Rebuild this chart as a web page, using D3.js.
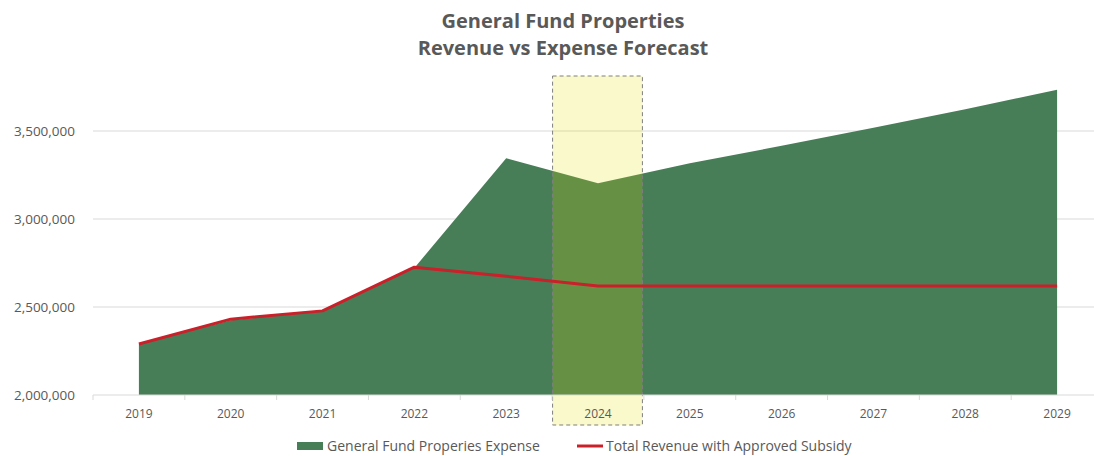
<!DOCTYPE html>
<html>
<head>
<meta charset="utf-8">
<script src="https://cdn.jsdelivr.net/npm/d3@7"></script>
<style>
  body { margin: 0; background: #fff; }
  text { font-family: "Open Sans", "DejaVu Sans", sans-serif; }
</style>
</head>
<body>
<svg id="chart" width="1094" height="456"></svg>
<script>
// ─── Data ─────────────────────────────────────────────────────────────────────
const years    = ["2019", "2020", "2021", "2022", "2023", "2024", "2025", "2026", "2027", "2028", "2029"];
const expense  = [2290000, 2425000, 2478000, 2722000, 3345000, 3203000, 3317000, 3416000, 3519000, 3624000, 3735000];
const revenue  = [2290000, 2431000, 2478000, 2726000, 2675000, 2619000, 2619000, 2619000, 2619000, 2619000, 2619000];
const yTicks   = [2000000, 2500000, 3000000, 3500000];
const highlightYear = "2024";
const titleLines = ["General Fund Properties", "Revenue vs Expense Forecast"];
const seriesNames = ["General Fund Properies Expense", "Total Revenue with Approved Subsidy"];

// ─── Layout ───────────────────────────────────────────────────────────────────
const GREEN = "#477e57", RED = "#c9202a", GREY = "#595959", GRID = "#d9d9d9";
const plot = { left: 93, right: 1103, top: 43, bottom: 395 };

const svg = d3.select("#chart");

const x = d3.scaleBand().domain(years).range([plot.left, plot.right]);
const cx = d => x(d) + x.bandwidth() / 2;
const y = d3.scaleLinear().domain([2000000, 4000000]).range([plot.bottom, plot.top]);

// Gridlines
svg.append("g")
    .selectAll("line")
    .data(yTicks.slice(1))
    .join("line")
    .attr("x1", plot.left).attr("x2", plot.right)
    .attr("y1", d => y(d)).attr("y2", d => y(d))
    .attr("stroke", GRID).attr("stroke-width", 1);

// Y axis labels
svg.append("g")
    .selectAll("text")
    .data(yTicks)
    .join("text")
    .attr("x", 75).attr("y", d => y(d))
    .attr("dy", "0.35em")
    .attr("text-anchor", "end")
    .attr("font-size", 13.5)
    .attr("fill", GREY)
    .text(d => d3.format(",")(d));

// Expense area
const rows = years.map((yr, i) => ({ yr, exp: expense[i], rev: revenue[i] }));
svg.append("path")
    .datum(rows)
    .attr("fill", GREEN)
    .attr("d", d3.area().x(d => cx(d.yr)).y0(y(2000000)).y1(d => y(d.exp)));

// Highlighted year
svg.append("rect")
    .attr("x", x(highlightYear) + 0.5)
    .attr("y", 76)
    .attr("width", x.bandwidth() - 2)
    .attr("height", 425 - 76)
    .attr("fill", "#e6e000")
    .attr("fill-opacity", 0.2)
    .attr("stroke", "#7f7f7f")
    .attr("stroke-width", 1)
    .attr("stroke-dasharray", "4,3");

// X axis
const xAxis = svg.append("g").attr("transform", `translate(0,${plot.bottom})`);
xAxis.append("line")
    .attr("x1", plot.left).attr("x2", plot.right)
    .attr("stroke", GRID);
xAxis.selectAll("line.tick")
    .data(years)
    .join("line")
    .attr("class", "tick")
    .attr("x1", d => x(d)).attr("x2", d => x(d))
    .attr("y1", 0).attr("y2", 5)
    .attr("stroke", GRID);
xAxis.selectAll("text")
    .data(years)
    .join("text")
    .attr("x", d => cx(d)).attr("y", 19)
    .attr("dy", "0.35em")
    .attr("text-anchor", "middle")
    .attr("font-size", 12)
    .attr("fill", GREY)
    .text(d => d);

// Revenue line
svg.append("path")
    .datum(rows)
    .attr("fill", "none")
    .attr("stroke", RED)
    .attr("stroke-width", 3)
    .attr("stroke-linejoin", "round")
    .attr("d", d3.line().x(d => cx(d.yr)).y(d => y(d.rev)));

// Title
svg.append("g")
    .selectAll("text")
    .data(titleLines)
    .join("text")
    .attr("x", 563).attr("y", (d, i) => 28 + i * 27)
    .attr("text-anchor", "middle")
    .attr("font-size", 20)
    .attr("font-weight", "bold")
    .attr("fill", GREY)
    .text(d => d);

// Legend
const legend = svg.append("g").attr("transform", "translate(0,446)");
legend.append("rect")
    .attr("x", 297).attr("y", -4).attr("width", 26).attr("height", 8)
    .attr("fill", GREEN);
legend.append("text")
    .attr("x", 327).attr("dy", "0.35em")
    .attr("font-size", 14).attr("fill", GREY)
    .text(seriesNames[0]);
legend.append("line")
    .attr("x1", 577).attr("x2", 603)
    .attr("stroke", RED).attr("stroke-width", 3);
legend.append("text")
    .attr("x", 606).attr("dy", "0.35em")
    .attr("font-size", 14).attr("fill", GREY)
    .text(seriesNames[1]);
</script>
</body>
</html>
